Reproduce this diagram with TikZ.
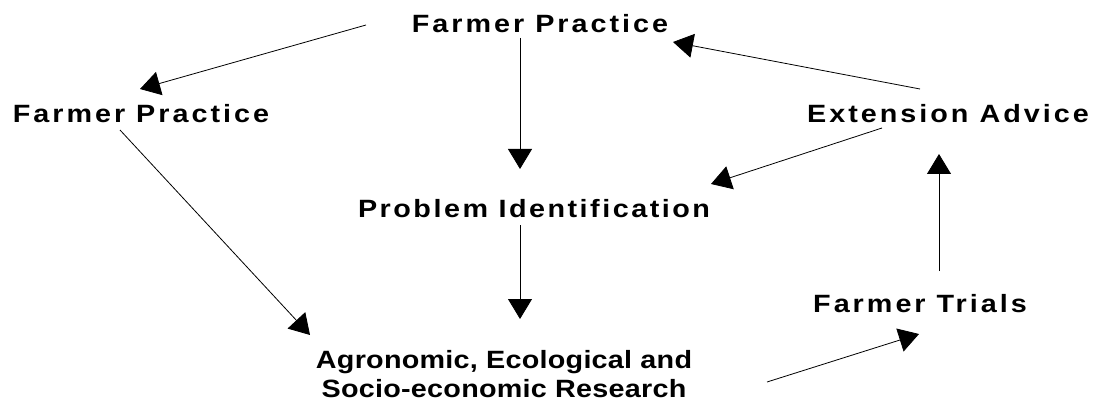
\documentclass[tikz,border=0pt]{standalone}
\usepackage{fontspec}
\newfontfamily\labfont[LetterSpace=12,FakeStretch=1.15]{Liberation Sans Bold}
\newfontfamily\pidfont[LetterSpace=10,FakeStretch=1.15]{Liberation Sans Bold}
\newfontfamily\agrfont[LetterSpace=1,FakeStretch=1.15]{Liberation Sans Bold}
\usetikzlibrary{arrows.meta,calc}
\tikzset{
  lab/.style={inner sep=0pt, anchor=base, font=\labfont\fontsize{25}{29}\selectfont, align=center},
  conn/.style={line width=0.8pt, -{Triangle[length=20pt,width=24pt]}}
}
\begin{document}
\begin{tikzpicture}[x=1pt,y=-1pt]
\useasboundingbox (0,0) rectangle (1097,406);
\node[lab] (fpt) at (540,33) {Farmer Practice};
\node[lab] (fpl) at (141,123) {Farmer Practice};
\node[lab] (ext) at (948,123) {Extension Advice};
\node[lab, font=\pidfont\fontsize{25}{29}\selectfont] (pid) at (534,218) {Problem Identification};
\node[lab, font=\agrfont\fontsize{25}{29}\selectfont] (agr) at (504,397) {Agronomic, Ecological and\\Socio-economic Research};
\node[lab] (ftr) at (920,312) {Farmer Trials};
\draw[conn] ($(fpt.base)+(-174,-8)$) -- ($(fpl.base)+(-1,-34)$);
\draw[conn] ($(fpt.base)+(-20,5)$) -- ($(pid.base)+(-14,-49)$);
\draw[conn] ($(ext.base)+(-28,-34)$) -- ($(fpt.base)+(133,9)$);
\draw[conn] ($(ext.base)+(-66,5)$) -- ($(pid.base)+(177,-34)$);
\draw[conn] ($(fpl.base)+(-21,7)$) -- ($(agr.base)+(-194,-62)$);
\draw[conn] ($(pid.base)+(-14,7)$) -- ($(agr.base)+(16,-78)$);
\draw[conn] ($(agr.base)+(263,-15)$) -- ($(ftr.base)+(-1,22)$);
\draw[conn] ($(ftr.base)+(19,-41)$) -- ($(ext.base)+(-9,31)$);
\end{tikzpicture}
\end{document}
